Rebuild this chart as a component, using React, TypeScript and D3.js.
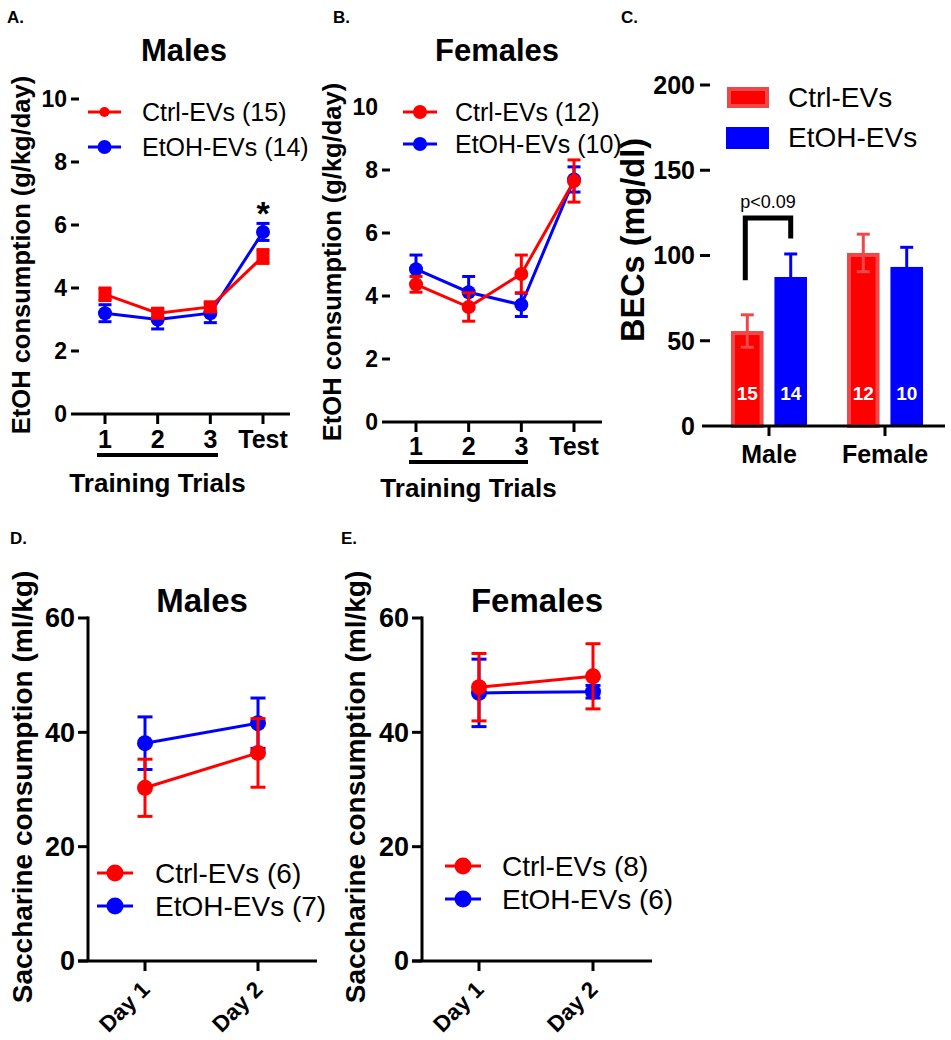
import React from 'react';
import * as d3 from 'd3';

const FONT = '"Liberation Sans", Arial, Helvetica, sans-serif';
const RED = '#ff0000';
const BLUE = '#0000ff';
const RED_LIGHT = '#f04848';

// A / B: EtOH consumption (g/kg/day) over training trials
const trials = ['1', '2', '3', 'Test'];
const etohTicks = [0, 2, 4, 6, 8, 10];
const malesCtrl = [3.8, 3.2, 3.4, 5.0];
const malesCtrlErr = [0.2, 0.15, 0.15, 0.22];
const malesEtoh = [3.2, 3.0, 3.2, 5.78];
const malesEtohErr = [0.27, 0.3, 0.3, 0.27];
const femalesCtrl = [4.37, 3.65, 4.7, 7.65];
const femalesCtrlErr = [0.25, 0.45, 0.6, 0.67];
const femalesEtoh = [4.85, 4.12, 3.72, 7.7];
const femalesEtohErr = [0.45, 0.5, 0.37, 0.4];

// C: blood ethanol concentrations
const sexes = ['Male', 'Female'];
const becGroups = ['Ctrl-EVs', 'EtOH-EVs'];
const becTicks = [0, 50, 100, 150, 200];
const becCtrl = [55.7, 101.5];
const becCtrlErr = [9.5, 11];
const becCtrlN = [15, 12];
const becEtoh = [87.4, 93.3];
const becEtohErr = [13.5, 11.5];
const becEtohN = [14, 10];

// D / E: saccharine consumption (ml/kg)
const days = ['Day 1', 'Day 2'];
const sacTicks = [0, 20, 40, 60];
const sacMalesCtrl = [30.3, 36.4];
const sacMalesCtrlErr = [5.0, 6.0];
const sacMalesEtoh = [38.1, 41.6];
const sacMalesEtohErr = [4.6, 4.4];
const sacFemalesCtrl = [47.9, 49.8];
const sacFemalesCtrlErr = [5.9, 5.7];
const sacFemalesEtoh = [46.9, 47.1];
const sacFemalesEtohErr = [5.9, 1.1];

type Scale = (v: any) => number;

const Series = ({ cats, values, errs, x, y, color, shape, r, cap }: {
  cats: string[]; values: number[]; errs: number[]; x: Scale; y: Scale;
  color: string; shape: 'circle' | 'square'; r: number; cap: number;
}) => {
  const line = d3.line<number>().x((_, i) => x(cats[i])).y(d => y(d));
  return (
    <g>
      <path d={line(values) || ''} fill="none" stroke={color} strokeWidth={3} />
      {values.map((v, i) => {
        const cx = x(cats[i]);
        const lo = y(v - errs[i]);
        const hi = y(v + errs[i]);
        return (
          <g key={i} stroke={color} strokeWidth={3}>
            <line x1={cx} x2={cx} y1={lo} y2={hi} />
            <line x1={cx - cap / 2} x2={cx + cap / 2} y1={lo} y2={lo} />
            <line x1={cx - cap / 2} x2={cx + cap / 2} y1={hi} y2={hi} />
            {shape === 'circle'
              ? <circle cx={cx} cy={y(v)} r={r} fill={color} stroke="none" />
              : <rect x={cx - r} y={y(v) - r} width={2 * r} height={2 * r} fill={color} stroke="none" />}
          </g>
        );
      })}
    </g>
  );
};

const LegendRow = ({ x0, x1, y, r, color, label, textX, size }: {
  x0: number; x1: number; y: number; r: number; color: string; label: string; textX: number; size: number;
}) => (
  <g>
    <line x1={x0} x2={x1} y1={y} y2={y} stroke={color} strokeWidth={3} />
    <circle cx={(x0 + x1) / 2} cy={y} r={r} fill={color} />
    <text x={textX} y={y} dy="0.35em" fontSize={size} fontFamily={FONT}>{label}</text>
  </g>
);

const RotTitle = ({ x, y, size, text }: { x: number; y: number; size: number; text: string }) => (
  <text transform={`translate(${x},${y}) rotate(-90)`} textAnchor="middle" dy="0.35em"
    fontSize={size} fontWeight="bold" fontFamily={FONT}>{text}</text>
);

const PanelLetter = ({ x, y, t }: { x: number; y: number; t: string }) => (
  <text x={x} y={y} fontSize={17} fontWeight="bold" fontFamily={FONT}>{t}</text>
);

// Panels A and B share a layout, only offsets differ
const TrialPanel = ({ title, titleX, xr, yr, axisX, labelRight, dashTicks, ctrl, ctrlErr, etoh, etohErr,
  ctrlShape, ctrlR, legend, underline, trialsY, tickLabelY, yTitleX, yTitleY, star }: any) => {
  const x = d3.scalePoint<string>().domain(trials).range(xr);
  const y = d3.scaleLinear().domain([0, 10]).range(yr);
  const xs = (c: string) => x(c) as number;
  const y0 = y(0);
  return (
    <g fontFamily={FONT}>
      <text x={titleX} y={61} textAnchor="middle" fontSize={31} fontWeight="bold">{title}</text>
      <RotTitle x={yTitleX} y={yTitleY} size={25.5} text="EtOH consumption (g/kg/day)" />
      {etohTicks.map(t => (
        <g key={t}>
          <text x={labelRight} y={y(t)} dy="0.35em" textAnchor="end" fontSize={23} fontWeight="bold">{t}</text>
          {dashTicks.includes(t) && <line x1={axisX[0]} x2={axisX[0] + 8} y1={y(t)} y2={y(t)} stroke="#000" strokeWidth={3} />}
        </g>
      ))}
      <line x1={axisX[0]} x2={axisX[1]} y1={y0} y2={y0} stroke="#000" strokeWidth={3} />
      {trials.map(c => (
        <g key={c}>
          <line x1={xs(c)} x2={xs(c)} y1={y0} y2={y0 + 10} stroke="#000" strokeWidth={3} />
          <text x={xs(c)} y={tickLabelY} textAnchor="middle" fontSize={25} fontWeight="bold">{c}</text>
        </g>
      ))}
      <line x1={underline[0]} x2={underline[1]} y1={underline[2]} y2={underline[2]} stroke="#000" strokeWidth={4} />
      <text x={(underline[0] + underline[1]) / 2} y={trialsY} textAnchor="middle" fontSize={26} fontWeight="bold">Training Trials</text>
      <Series cats={trials} values={etoh} errs={etohErr} x={xs} y={y} color={BLUE} shape="circle" r={7} cap={13} />
      <Series cats={trials} values={ctrl} errs={ctrlErr} x={xs} y={y} color={RED} shape={ctrlShape} r={ctrlR} cap={13} />
      {star && <text x={xs('Test')} y={y(etoh[3] + etohErr[3]) + 2} textAnchor="middle" fontSize={34} fontWeight="bold">*</text>}
      <LegendRow x0={legend.x0} x1={legend.x1} y={legend.y1} r={legend.r1} color={RED} label={legend.l1} textX={legend.tx} size={25} />
      <LegendRow x0={legend.x0} x1={legend.x1} y={legend.y2} r={7} color={BLUE} label={legend.l2} textX={legend.tx} size={25} />
    </g>
  );
};

const BecPanel = () => {
  const x = d3.scaleBand<string>().domain(sexes).range([711, 943]);
  const xi = d3.scaleBand<string>().domain(becGroups).range([20, 96]).paddingInner(0.25);
  const y = d3.scaleLinear().domain([0, 200]).range([426, 85]);
  const bw = xi.bandwidth();
  const y0 = y(0);
  const bars = sexes.flatMap((s, i) => [
    { s, g: becGroups[0], v: becCtrl[i], e: becCtrlErr[i], n: becCtrlN[i] },
    { s, g: becGroups[1], v: becEtoh[i], e: becEtohErr[i], n: becEtohN[i] },
  ]);
  const bx = (s: string, g: string) => (x(s) as number) + (xi(g) as number);
  const maleCtrlX = bx('Male', becGroups[0]) + bw / 2 - 2;
  const maleEtohX = bx('Male', becGroups[1]) + bw / 2;
  const top = y(122);
  return (
    <g fontFamily={FONT}>
      <RotTitle x={633} y={240} size={32.5} text="BECs (mg/dl)" />
      {becTicks.map(t => (
        <g key={t}>
          <text x={695} y={y(t)} dy="0.35em" textAnchor="end" fontSize={25} fontWeight="bold">{t}</text>
          {t > 0 && <line x1={700} x2={710} y1={y(t)} y2={y(t)} stroke="#000" strokeWidth={3} />}
        </g>
      ))}
      {bars.map((b, i) => {
        const left = bx(b.s, b.g);
        const cx = left + bw / 2;
        const ctrl = b.g === becGroups[0];
        const ec = ctrl ? RED_LIGHT : BLUE;
        return (
          <g key={i}>
            {ctrl
              ? <rect x={left + 2} y={y(b.v) + 2} width={bw - 4} height={y0 - y(b.v) - 2} fill={RED} stroke={RED_LIGHT} strokeWidth={4} />
              : <rect x={left} y={y(b.v)} width={bw} height={y0 - y(b.v)} fill={BLUE} />}
            <g stroke={ec} strokeWidth={3}>
              <line x1={cx} x2={cx} y1={y(b.v - b.e)} y2={y(b.v + b.e)} />
              <line x1={cx - 6.5} x2={cx + 6.5} y1={y(b.v + b.e)} y2={y(b.v + b.e)} />
              {ctrl && <line x1={cx - 6.5} x2={cx + 6.5} y1={y(b.v - b.e)} y2={y(b.v - b.e)} />}
            </g>
            <text x={cx} y={400} textAnchor="middle" fill="#fff" fontSize={19} fontWeight="bold">{b.n}</text>
          </g>
        );
      })}
      <line x1={702} x2={945} y1={y0} y2={y0} stroke="#000" strokeWidth={3} />
      {sexes.map(s => {
        const cx = (x(s) as number) + x.bandwidth() / 2;
        return (
          <g key={s}>
            <line x1={cx} x2={cx} y1={y0} y2={y0 + 10} stroke="#000" strokeWidth={3} />
            <text x={cx} y={463} textAnchor="middle" fontSize={25} fontWeight="bold">{s}</text>
          </g>
        );
      })}
      <path d={`M${maleCtrlX},${y(85.5)}V${top}H${maleEtohX}V${y(110)}`} fill="none" stroke="#000" strokeWidth={5} />
      <text x={(maleCtrlX + maleEtohX) / 2} y={top - 10} textAnchor="middle" fontSize={18}>p&lt;0.09</text>
      <rect x={729} y={89} width={38} height={17} fill={RED} stroke={RED_LIGHT} strokeWidth={4} />
      <rect x={726} y={127} width={43} height={22} fill={BLUE} />
      <text x={788} y={107} fontSize={28}>{becGroups[0]}</text>
      <text x={788} y={147} fontSize={28}>{becGroups[1]}</text>
    </g>
  );
};

const SacPanel = ({ title, titleX, axisX, xr, axisEnd, ctrl, ctrlErr, etoh, etohErr, legend, yTitleX }: any) => {
  const x = d3.scalePoint<string>().domain(days).range(xr);
  const y = d3.scaleLinear().domain([0, 60]).range([961, 618]);
  const xs = (c: string) => x(c) as number;
  const y0 = y(0);
  return (
    <g fontFamily={FONT}>
      <text x={titleX} y={612} textAnchor="middle" fontSize={33} fontWeight="bold">{title}</text>
      <RotTitle x={yTitleX} y={787} size={28} text="Saccharine consumption (ml/kg)" />
      {sacTicks.map(t => (
        <g key={t}>
          <text x={axisX - 13} y={y(t)} dy="0.35em" textAnchor="end" fontSize={27} fontWeight="bold">{t}</text>
          <line x1={axisX - 10} x2={axisX} y1={y(t)} y2={y(t)} stroke="#000" strokeWidth={3} />
        </g>
      ))}
      <line x1={axisX} x2={axisX} y1={y(60) - 1.5} y2={y0} stroke="#000" strokeWidth={3} />
      <line x1={axisX - 10} x2={axisEnd} y1={y0} y2={y0} stroke="#000" strokeWidth={3} />
      {days.map(c => (
        <g key={c}>
          <line x1={xs(c)} x2={xs(c)} y1={y0} y2={y0 + 10} stroke="#000" strokeWidth={3} />
          <text transform={`translate(${xs(c) + 6},${y0 + 30}) rotate(-45)`} textAnchor="end" fontSize={22.5} fontWeight="bold">{c}</text>
        </g>
      ))}
      <Series cats={days} values={etoh} errs={etohErr} x={xs} y={y} color={BLUE} shape="circle" r={8} cap={15} />
      <Series cats={days} values={ctrl} errs={ctrlErr} x={xs} y={y} color={RED} shape="circle" r={8} cap={15} />
      <LegendRow x0={legend.x0} x1={legend.x1} y={legend.y1} r={8.5} color={RED} label={legend.l1} textX={legend.tx} size={28} />
      <LegendRow x0={legend.x0} x1={legend.x1} y={legend.y2} r={8.5} color={BLUE} label={legend.l2} textX={legend.tx} size={28} />
    </g>
  );
};

export default function App() {
  return (
    <svg width={951} height={1040} style={{ position: 'absolute', left: 0, top: 0, background: '#fff' }}>
      <rect width={951} height={1040} fill="#fff" />
      <PanelLetter x={7} y={23} t="A." />
      <PanelLetter x={333} y={23} t="B." />
      <PanelLetter x={621} y={23} t="C." />
      <PanelLetter x={10} y={544} t="D." />
      <PanelLetter x={341} y={544} t="E." />
      <TrialPanel title="Males" titleX={184} xr={[105, 263]} yr={[414, 99]} axisX={[71, 290]} labelRight={67}
        dashTicks={[2, 4, 6, 8, 10]} ctrl={malesCtrl} ctrlErr={malesCtrlErr} etoh={malesEtoh} etohErr={malesEtohErr}
        ctrlShape="square" ctrlR={6.5} underline={[97, 218, 455]} trialsY={492} tickLabelY={448}
        yTitleX={21} yTitleY={255} star
        legend={{ x0: 88, x1: 121, y1: 112, y2: 147, r1: 5, tx: 142, l1: 'Ctrl-EVs (15)', l2: 'EtOH-EVs (14)' }} />
      <TrialPanel title="Females" titleX={497} xr={[416, 574]} yr={[422, 107]} axisX={[382, 602]} labelRight={378}
        dashTicks={[2, 4, 6, 8]} ctrl={femalesCtrl} ctrlErr={femalesCtrlErr} etoh={femalesEtoh} etohErr={femalesEtohErr}
        ctrlShape="circle" ctrlR={7} underline={[409, 528, 462]} trialsY={497} tickLabelY={455}
        yTitleX={332} yTitleY={262} star={false}
        legend={{ x0: 403, x1: 437, y1: 112, y2: 144, r1: 7, tx: 455, l1: 'Ctrl-EVs (12)', l2: 'EtOH-EVs (10)' }} />
      <BecPanel />
      <SacPanel title="Males" titleX={202} axisX={88} xr={[145, 258]} axisEnd={317}
        ctrl={sacMalesCtrl} ctrlErr={sacMalesCtrlErr} etoh={sacMalesEtoh} etohErr={sacMalesEtohErr} yTitleX={22}
        legend={{ x0: 97, x1: 133, y1: 873, y2: 906, tx: 155, l1: 'Ctrl-EVs (6)', l2: 'EtOH-EVs (7)' }} />
      <SacPanel title="Females" titleX={537} axisX={422} xr={[479, 593]} axisEnd={652}
        ctrl={sacFemalesCtrl} ctrlErr={sacFemalesCtrlErr} etoh={sacFemalesEtoh} etohErr={sacFemalesEtohErr} yTitleX={355}
        legend={{ x0: 445, x1: 481, y1: 866, y2: 899, tx: 502, l1: 'Ctrl-EVs (8)', l2: 'EtOH-EVs (6)' }} />
    </svg>
  );
}
